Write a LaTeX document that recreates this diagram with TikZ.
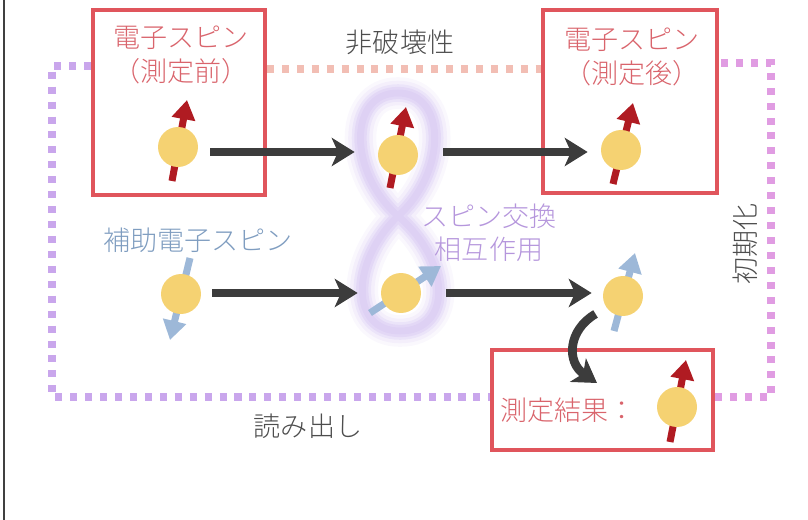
\documentclass[tikz,border=0pt]{standalone}
\usepackage{fontspec}
\setmainfont{Noto Sans CJK JP}[UprightFont={* Light}]
\usepackage{xcolor}
\usepackage{tikz}
\usetikzlibrary{arrows.meta, calc, positioning}

\definecolor{boxred}{HTML}{E0555C}
\definecolor{textred}{HTML}{D9646C}
\definecolor{spinred}{HTML}{B01B22}
\definecolor{spinblue}{HTML}{9DB8D8}
\definecolor{textblue}{HTML}{7F9DC0}
\definecolor{spinyellow}{HTML}{F5D272}
\definecolor{flowgray}{HTML}{3C3C3C}
\definecolor{textgray}{HTML}{4D4D4D}
\definecolor{glowlilac}{HTML}{D6C6F2}
\definecolor{textlilac}{HTML}{B596DC}
\definecolor{dotlilac}{HTML}{C9A6EC}
\definecolor{dotorchid}{HTML}{E09CE2}
\definecolor{dotpink}{HTML}{F2BEB4}

\tikzset{
    jp/.style={font=\fontsize{15.4}{19}\selectfont, align=center, inner sep=0pt},
    redbox/.style={draw=boxred, line width=2.2pt, inner sep=0pt},
    spin/.style={circle, fill=spinyellow, minimum size=0.8cm, inner sep=0pt},
    upspin/.style={draw=spinred, line width=4pt, -{Triangle[length=11pt, width=13pt]}},
    auxspin/.style={draw=spinblue, line width=4pt, -{Triangle[length=11pt, width=13pt]}},
    flow/.style={draw=flowgray, line width=5pt, -{Stealth[length=13pt, width=16pt, inset=3.5pt]}},
    dots/.style={line width=4pt, dash pattern=on 4pt off 4.5pt}
}

\begin{document}
\begin{tikzpicture}[x=0.02cm, y=-0.02cm]

    \useasboundingbox (0,0) rectangle (808,520);
    \draw[black!75, line width=1pt] (4,0) -- (4,520);

    % =================================================================
    % HÀNG CHẤM: NHỮNG ĐƯỜNG NỐI GIỮA CÁC HỘP
    % =================================================================
    \coordinate (toprow) at (0,69);
    \coordinate (leftrow) at (0,66);
    \coordinate (rightrow) at (0,63);
    \coordinate (bottomrow) at (0,397);

    \node[redbox, minimum width=3.44cm, minimum height=3.70cm] (before) at (179,102.5) {};
    \node[redbox, minimum width=3.48cm, minimum height=3.66cm] (after) at (630,101.5) {};
    \node[redbox, minimum width=4.42cm, minimum height=2.00cm] (result) at (602.5,400) {};

    \draw[dots, dotpink] (before.east |- toprow) -- (after.west |- toprow);
    \draw[dots, dotlilac] (before.west |- leftrow) -- (52,66) -- (52,397) -- (result.west |- bottomrow);
    \draw[dots, dotorchid] (result.east |- bottomrow) -- (771,397) -- (771,63) -- (after.east |- rightrow);

    % =================================================================
    % VÒNG SÁNG HÌNH SỐ 8 (TƯƠNG TÁC)
    % =================================================================
    \foreach \w/\o in {18/0.12, 14/0.18, 10/0.28, 7/0.38, 4/0.40} {
        \draw[glowlilac, line width=\w pt, opacity=\o]
            (398,216) .. controls (447,172) and (447,93) .. (398,93)
            .. controls (348,93) and (348,172) .. (398,216)
            .. controls (452,262) and (452,331) .. (400,331)
            .. controls (350,331) and (350,262) .. (398,216);
    }

    % =================================================================
    % CÁC SPIN (MŨI TÊN TRƯỚC, HÌNH TRÒN SAU)
    % =================================================================
    \draw[upspin] (172,181) -- (187,100);
    \draw[upspin] (390,188) -- (406,107);
    \draw[upspin] (613,184) -- (633,103);
    \draw[upspin] (670,442) -- (686,360);
    \draw[auxspin] (190,258) -- (170,340);
    \draw[auxspin] (370,313) -- (441,266);
    \draw[auxspin] (614,331) -- (635,253);

    \node[spin] (s1) at (178,147) {};
    \node[spin] (s2) at (398,155) {};
    \node[spin] (s3) at (621,150) {};
    \node[spin] (a1) at (181,294) {};
    \node[spin] (a2) at (401,293) {};
    \node[spin] (a3) at (623,296) {};
    \node[spin] (r1) at (677,407) {};

    % =================================================================
    % CÁC MŨI TÊN CHUYỂN TRẠNG THÁI
    % =================================================================
    \coordinate (row1) at (0,152);
    \coordinate (row2) at (0,293);
    \coordinate (readtip) at (597,383);

    \draw[flow, shorten <=0.24cm, shorten >=0.46cm] (s1.east |- row1) -- (s2.west |- row1);
    \draw[flow, shorten <=0.50cm, shorten >=0.26cm] (s2.east |- row1) -- (s3.west |- row1);
    \draw[flow, shorten <=0.22cm, shorten >=0.46cm] (a1.east |- row2) -- (a2.west |- row2);
    \draw[flow, shorten <=0.50cm, shorten >=0.22cm] (a2.east |- row2) -- (a3.west |- row2);
    \draw[flow, shorten <=0.25cm] (a3.215) .. controls (568,330) and (566,362) .. (readtip);

    % =================================================================
    % CHỮ
    % =================================================================
    \node[jp, textred] (pre) at (181,55) {電子スピン\\（測定前）};
    \node[jp, textred] (post) at (632,57) {電子スピン\\（測定後）};
    \node[jp, textgray] (qnd) at (400,42) {非破壊性};
    \node[jp, textblue] (aux) at (198,240) {補助電子スピン};
    \node[jp, textlilac] (xchg) at (489,233) {スピン交換\\相互作用};
    \node[jp, textgray] (read) at (308,426) {読み出し};
    \node[jp, textred, anchor=west] (res) at (500,410) {測定結果：};
    \node[jp, textgray, rotate=90] (init) at (745,244) {初期化};

\end{tikzpicture}
\end{document}
